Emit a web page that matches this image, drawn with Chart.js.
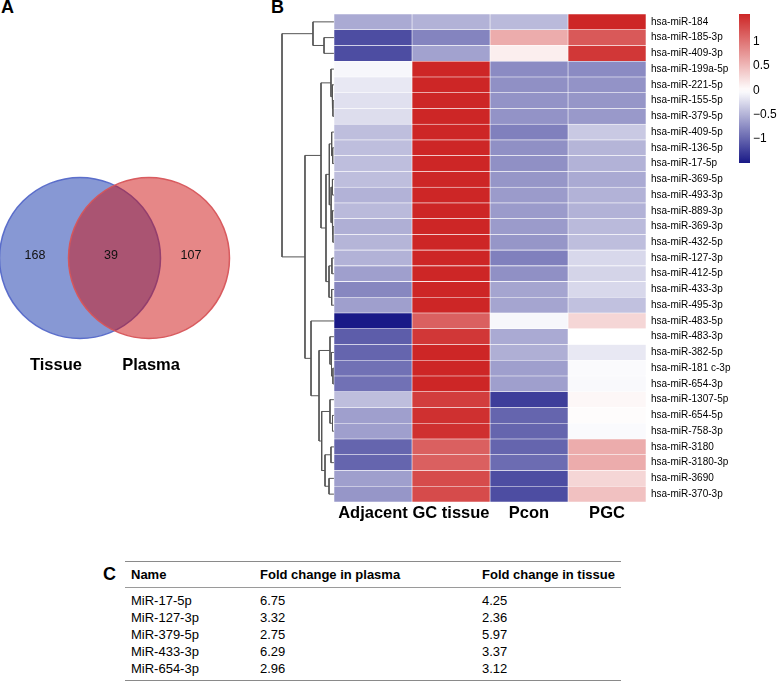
<!DOCTYPE html>
<html><head><meta charset="utf-8">
<script src="https://cdn.jsdelivr.net/npm/chart.js@4.4.0/dist/chart.umd.min.js"></script>
<style>
html,body{margin:0;padding:0;background:#fff;width:779px;height:686px;overflow:hidden;font-family:"Liberation Sans",Arial,sans-serif;color:#000;}
#root{position:relative;width:779px;height:686px;}
canvas{position:absolute;}
.abs{position:absolute;white-space:nowrap;}
.panel{font-weight:bold;font-size:18px;line-height:20px;}
</style></head><body><div id="root">
<div class="abs panel" style="left:1px;top:-3px;">A</div>
<div class="abs panel" style="left:271px;top:-3px;">B</div>
<div class="abs panel" style="left:103px;top:564px;">C</div>
<canvas id="venn" width="260" height="236" style="left:0px;top:140px;width:260px;height:236px;"></canvas>
<canvas id="heat" width="470" height="530" style="left:270px;top:0px;width:470px;height:530px;"></canvas>
<canvas id="cbar" width="40" height="175" style="left:739px;top:0px;width:40px;height:175px;"></canvas>
<div id="tbl"></div>
</div>
<script>
// ---------------- DATA ----------------
const vennSets = ['Tissue', 'Plasma'];
const vennCounts = [168, 39, 107]; // tissue only, shared, plasma only

const heatColumns = ['Adjacent', 'GC tissue', 'Pcon', 'PGC'];
const mirnas = ['hsa-miR-184','hsa-miR-185-3p','hsa-miR-409-3p','hsa-miR-199a-5p','hsa-miR-221-5p',
  'hsa-miR-155-5p','hsa-miR-379-5p','hsa-miR-409-5p','hsa-miR-136-5p','hsa-miR-17-5p','hsa-miR-369-5p',
  'hsa-miR-493-3p','hsa-miR-889-3p','hsa-miR-369-3p','hsa-miR-432-5p','hsa-miR-127-3p','hsa-miR-412-5p',
  'hsa-miR-433-3p','hsa-miR-495-3p','hsa-miR-483-5p','hsa-miR-483-3p','hsa-miR-382-5p','hsa-miR-181 c-3p',
  'hsa-miR-654-3p','hsa-miR-1307-5p','hsa-miR-654-5p','hsa-miR-758-3p','hsa-miR-3180','hsa-miR-3180-3p',
  'hsa-miR-3690','hsa-miR-370-3p'];
const adjacent = [-0.55,-1.15,-1.15,-0.05,-0.15,-0.2,-0.22,-0.42,-0.42,-0.42,-0.42,-0.5,-0.45,-0.52,-0.48,
  -0.5,-0.62,-0.78,-0.62,-1.49,-1.05,-1.0,-0.92,-0.92,-0.42,-0.62,-0.62,-1.0,-1.0,-0.62,-0.68];
const gcTissue = [-0.5,-0.8,-0.6,1.57,1.57,1.57,1.57,1.57,1.57,1.57,1.57,1.57,1.57,1.57,1.57,
  1.57,1.57,1.57,1.57,1.15,1.45,1.57,1.57,1.57,1.4,1.5,1.5,1.15,1.15,1.3,1.3];
const pcon = [-0.45,0.6,0.12,-0.75,-0.72,-0.7,-0.7,-0.82,-0.72,-0.72,-0.68,-0.65,-0.65,-0.65,-0.68,
  -0.82,-0.72,-0.58,-0.58,-0.05,-0.55,-0.52,-0.62,-0.62,-1.25,-1.0,-1.0,-1.0,-0.95,-1.15,-1.15];
const pgc = [1.57,1.2,1.45,-0.75,-0.7,-0.68,-0.66,-0.35,-0.48,-0.5,-0.55,-0.5,-0.5,-0.45,-0.42,
  -0.25,-0.28,-0.25,-0.4,0.3,0.0,-0.15,-0.03,-0.04,0.06,0.02,-0.03,0.6,0.6,0.3,0.45];
// hclust-style merges: negative = leaf (1-based row), positive = earlier merge (1-based); third = height
const dendroMerges = [
  [-2,-3,1.92],[-1,1,4.04],[-6,-7,0.2],[-5,3,0.38],[-4,4,0.58],
  [-9,-10,0.25],[-8,6,0.45],[-11,-12,0.3],[-14,-15,0.2],[-13,9,0.35],[8,10,0.55],[7,11,0.9],
  [-16,-17,0.4],[-18,-19,0.45],[13,14,0.96],[12,15,1.54],[5,16,2.5],
  [-23,-24,0.2],[-22,18,0.48],[-21,19,0.77],
  [-26,-27,0.29],[-25,21,0.77],[-28,-29,0.58],[-30,-31,0.96],[23,24,1.73],[22,25,2.37],
  [20,26,2.88],[-20,27,4.42],[17,28,5.58],[2,29,10]];
const colorbarRange = [-1.49, 1.57];
const colorbarTicks = [1, 0.5, 0, -0.5, -1];

const tableHeader = ['Name', 'Fold change in plasma', 'Fold change in tissue'];
const tableNames = ['MiR-17-5p', 'MiR-127-3p', 'MiR-379-5p', 'MiR-433-3p', 'MiR-654-3p'];
const plasmaFold = ['6.75', '3.32', '2.75', '6.29', '2.96'];
const tissueFold = ['4.25', '2.36', '5.97', '3.37', '3.12'];

// ---------------- STYLE HELPERS ----------------
const FONT = '"Liberation Sans", Arial, sans-serif';
Chart.defaults.font.family = FONT;
Chart.defaults.color = '#000';
Chart.defaults.animation = false;
const LOW = [25, 25, 135], HIGH = [205, 38, 38];
function heatColor(v) {
  let t, c;
  if (v < 0) { t = Math.min(1, v / colorbarRange[0]); c = LOW; }
  else { t = Math.min(1, v / colorbarRange[1]); c = HIGH; }
  const m = k => Math.round(255 + (c[k] - 255) * t);
  return `rgb(${m(0)},${m(1)},${m(2)})`;
}

// ---------------- VENN ----------------
const vennText = {
  id: 'vennText',
  afterDatasetsDraw(chart) {
    const {ctx, scales: {x, y}} = chart;
    const cy = y.getPixelForValue(0);
    ctx.save();
    ctx.fillStyle = '#111';
    ctx.textAlign = 'center'; ctx.textBaseline = 'middle';
    ctx.font = '12.5px ' + FONT;
    [-0.652, 0.449, 1.609].forEach((px, i) => ctx.fillText(String(vennCounts[i]), x.getPixelForValue(px), cy - 2));
    ctx.font = 'bold 16.5px ' + FONT;
    ctx.fillStyle = '#000';
    [-0.348, 1.03].forEach((px, i) => ctx.fillText(vennSets[i], x.getPixelForValue(px), cy + 107));
    ctx.restore();
  }
};
new Chart(document.getElementById('venn'), {
  type: 'scatter',
  data: { datasets: vennSets.map((s, i) => ({
    label: s,
    order: i === 0 ? 1 : 0,
    data: [{x: i, y: 0}],
    pointRadius: 80.5,
    pointHoverRadius: 80.5,
    backgroundColor: i === 0 ? 'rgba(55,83,183,0.6)' : 'rgba(205,15,15,0.5)',
    borderColor: i === 0 ? 'rgba(80,100,200,0.9)' : 'rgba(215,85,90,0.95)',
    borderWidth: 1.5,
    clip: false
  })) },
  options: {
    responsive: false, animation: false,
    layout: { padding: 0, autoPadding: false },
    plugins: { legend: { display: false }, tooltip: { enabled: false } },
    scales: {
      x: { type: 'linear', display: false, min: -80 / 69, max: 180 / 69 },
      y: { type: 'linear', display: false, min: -1, max: 1 }
    }
  },
  plugins: [vennText]
});

// ---------------- HEATMAP + DENDROGRAM ----------------
const colValues = [adjacent, gcTissue, pcon, pgc];
const barSets = heatColumns.map((col, ci) => ({
  type: 'bar', label: col, indexAxis: 'y', xAxisID: 'x', yAxisID: 'y',
  data: mirnas.map(() => [ci, ci + 1]),
  backgroundColor: colValues[ci].map(heatColor),
  borderColor: 'rgba(255,255,255,0.85)', borderWidth: 0.6, borderSkipped: false,
  barPercentage: 1, categoryPercentage: 1, grouped: false
}));
const nodes = [];
const dendroSets = dendroMerges.map(([a, b, h]) => {
  const ca = a < 0 ? {y: -a - 1, h: 0} : nodes[a - 1];
  const cb = b < 0 ? {y: -b - 1, h: 0} : nodes[b - 1];
  nodes.push({y: (ca.y + cb.y) / 2, h});
  return {
    type: 'line', indexAxis: 'x', xAxisID: 'xd', yAxisID: 'yd',
    data: [{x: ca.h, y: ca.y}, {x: h, y: ca.y}, {x: h, y: cb.y}, {x: cb.h, y: cb.y}],
    borderColor: '#555', borderWidth: 1, pointRadius: 0, fill: false, tension: 0, clip: false
  };
});
new Chart(document.getElementById('heat'), {
  type: 'bar',
  data: { labels: mirnas, datasets: [...barSets, ...dendroSets] },
  options: {
    responsive: false, animation: false, indexAxis: 'y',
    layout: { padding: { left: 12, top: 14, right: 0, bottom: 0 }, autoPadding: false },
    plugins: { legend: { display: false }, tooltip: { enabled: false } },
    scales: {
      x: { type: 'linear', position: 'bottom', min: -52 / 78, max: 4, offset: false,
        grid: { display: false, drawTicks: false }, border: { display: false },
        afterBuildTicks: s => { s.ticks = heatColumns.map((c, i) => ({value: i + 0.5})); },
        afterFit: s => { s.height = 28; },
        ticks: { autoSkip: false, maxRotation: 0, padding: 2, color: '#000',
          font: { size: 16.5, weight: 'bold' }, callback: (v, i) => heatColumns[i] } },
      y: { type: 'category', position: 'right', offset: true,
        grid: { display: false, drawTicks: false }, border: { display: false },
        afterFit: s => { s.width = 94; },
        ticks: { autoSkip: false, padding: 5, color: '#000', font: { size: 10 } } },
      xd: { type: 'linear', axis: 'x', display: false, reverse: true, min: -60, max: 10, offset: false },
      yd: { type: 'linear', axis: 'y', display: false, reverse: true, min: -0.5, max: mirnas.length - 0.5, offset: false }
    }
  }
});

// ---------------- COLOR BAR ----------------
new Chart(document.getElementById('cbar'), {
  type: 'bar',
  data: { labels: [''], datasets: [{
    data: [colorbarRange],
    backgroundColor: (c) => {
      const ch = c.chart, ys = ch.scales.y;
      if (!ch.chartArea || !ys) return '#ccc';
      const y0 = ys.getPixelForValue(colorbarRange[0]), y1 = ys.getPixelForValue(colorbarRange[1]);
      const g = ch.ctx.createLinearGradient(0, y0, 0, y1);
      const n = 40;
      for (let k = 0; k <= n; k++) {
        const v = colorbarRange[0] + (colorbarRange[1] - colorbarRange[0]) * k / n;
        g.addColorStop(k / n, heatColor(v));
      }
      return g;
    },
    borderWidth: 0, barPercentage: 1, categoryPercentage: 1
  }] },
  options: {
    responsive: false, animation: false,
    layout: { padding: { left: 0, top: 14, right: 0, bottom: 12 }, autoPadding: false },
    plugins: { legend: { display: false }, tooltip: { enabled: false } },
    scales: {
      x: { display: false, offset: true },
      y: { type: 'linear', position: 'right', min: colorbarRange[0], max: colorbarRange[1],
        grid: { display: false, drawTicks: false }, border: { display: false },
        afterFit: s => { s.width = 29; },
        afterBuildTicks: s => { s.ticks = colorbarTicks.map(v => ({value: v})); },
        ticks: { padding: 3, color: '#000', font: { size: 12 },
          callback: v => (v < 0 ? '\u2212' : '') + Math.abs(v) } }
    }
  }
});

// ---------------- TABLE ----------------
(function () {
  const root = document.getElementById('tbl');
  const colX = [131, 260, 482];
  const left = 125, right = 621;
  function rule(y, w, col) {
    const d = document.createElement('div');
    d.className = 'abs';
    d.style.cssText = `left:${left}px;top:${y}px;width:${right - left}px;height:0;border-top:${w}px solid ${col};`;
    root.appendChild(d);
  }
  function txt(s, x, baseline, bold) {
    const d = document.createElement('div');
    d.className = 'abs';
    d.textContent = s;
    d.style.cssText = `left:${x}px;top:${baseline - 12}px;font-size:13px;line-height:15px;font-weight:${bold ? 'bold' : 'normal'};`;
    root.appendChild(d);
  }
  rule(561, 1.5, '#8a8a8a');
  tableHeader.forEach((h, i) => txt(h, colX[i], 579, true));
  rule(587, 1, '#9a9a9a');
  tableNames.forEach((n, r) => {
    const b = 605 + r * 17;
    txt(n, colX[0], b, false);
    txt(plasmaFold[r], colX[1], b, false);
    txt(tissueFold[r], colX[2], b, false);
  });
  rule(680, 1.5, '#8a8a8a');
})();
</script>
</body></html>
